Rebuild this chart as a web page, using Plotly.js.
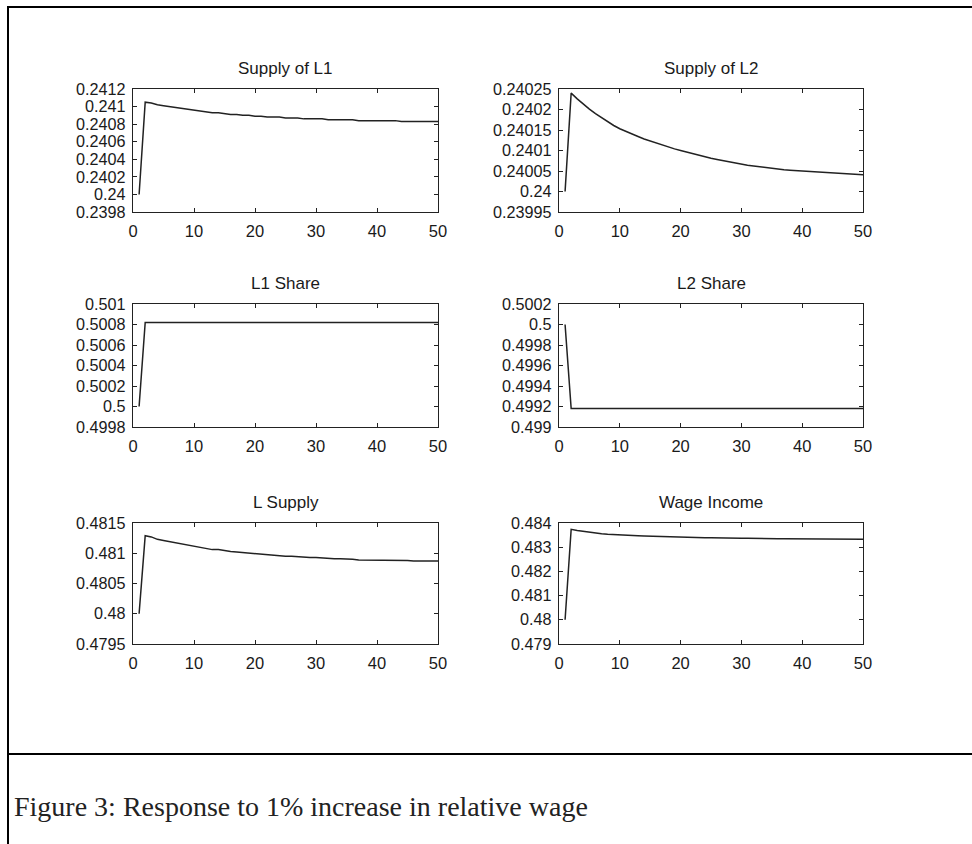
<!DOCTYPE html>
<html>
<head>
<meta charset="utf-8">
<script src="https://cdn.plot.ly/plotly-3.0.1.min.js"></script>
<style>html,body{margin:0;padding:0;background:#fff;}#chart{width:972px;height:844px;}</style>
</head>
<body>
<div id="chart"></div>
<script>
// ---- data ----
var periods = [1,2,3,4,5,6,7,8,9,10,11,12,13,14,15,16,17,18,19,20,21,22,23,24,25,26,27,28,29,30,31,32,33,34,35,36,37,38,39,40,41,42,43,44,45,46,47,48,49,50];

var supplyL1 = [0.24000,0.24105,0.24104,0.24102,0.24101,0.24100,0.24099,0.24098,0.24097,0.24096,
  0.24095,0.24094,0.24093,0.24093,0.24092,0.24091,0.24091,0.24090,0.24090,0.24089,
  0.24089,0.24088,0.24088,0.24088,0.24087,0.24087,0.24087,0.24086,0.24086,0.24086,
  0.24086,0.24085,0.24085,0.24085,0.24085,0.24085,0.24084,0.24084,0.24084,0.24084,
  0.24084,0.24084,0.24084,0.24083,0.24083,0.24083,0.24083,0.24083,0.24083,0.24083];

var supplyL2 = [0.240000,0.240240,0.240226,0.240213,0.240201,0.240190,0.240180,0.240170,0.240161,0.240153,
  0.240146,0.240140,0.240134,0.240128,0.240123,0.240118,0.240113,0.240108,0.240104,0.240100,
  0.240096,0.240092,0.240088,0.240084,0.240081,0.240078,0.240075,0.240072,0.240069,0.240066,
  0.240064,0.240062,0.240060,0.240058,0.240056,0.240054,0.240053,0.240052,0.240051,0.240050,
  0.240049,0.240048,0.240047,0.240046,0.240045,0.240044,0.240043,0.240042,0.240042,0.240041];

var shareL1 = [0.50000,0.50082,0.50082,0.50082,0.50082,0.50082,0.50082,0.50082,0.50082,0.50082,
  0.50082,0.50082,0.50082,0.50082,0.50082,0.50082,0.50082,0.50082,0.50082,0.50082,
  0.50082,0.50082,0.50082,0.50082,0.50082,0.50082,0.50082,0.50082,0.50082,0.50082,
  0.50082,0.50082,0.50082,0.50082,0.50082,0.50082,0.50082,0.50082,0.50082,0.50082,
  0.50082,0.50082,0.50082,0.50082,0.50082,0.50082,0.50082,0.50082,0.50082,0.50082];

var shareL2 = [0.50000,0.49918,0.49918,0.49918,0.49918,0.49918,0.49918,0.49918,0.49918,0.49918,
  0.49918,0.49918,0.49918,0.49918,0.49918,0.49918,0.49918,0.49918,0.49918,0.49918,
  0.49918,0.49918,0.49918,0.49918,0.49918,0.49918,0.49918,0.49918,0.49918,0.49918,
  0.49918,0.49918,0.49918,0.49918,0.49918,0.49918,0.49918,0.49918,0.49918,0.49918,
  0.49918,0.49918,0.49918,0.49918,0.49918,0.49918,0.49918,0.49918,0.49918,0.49918];

var lSupply = [0.48000,0.48129,0.48127,0.48123,0.48121,0.48119,0.48117,0.48115,0.48113,0.48111,
  0.48110,0.48108,0.48106,0.48106,0.48104,0.48103,0.48102,0.48101,0.48100,0.48099,
  0.48099,0.48097,0.48097,0.48096,0.48095,0.48095,0.48094,0.48093,0.48093,0.48093,
  0.48092,0.48091,0.48091,0.48091,0.48091,0.48090,0.48089,0.48089,0.48089,0.48089,
  0.48089,0.48089,0.48089,0.48088,0.48088,0.48087,0.48087,0.48087,0.48087,0.48087];

var wageIncome = [0.48000,0.48374,0.48369,0.48365,0.48361,0.48358,0.48356,0.48354,0.48352,0.48350,
  0.48349,0.48348,0.48347,0.48346,0.48345,0.48344,0.48344,0.48343,0.48342,0.48341,
  0.48341,0.48340,0.48340,0.48339,0.48339,0.48338,0.48338,0.48338,0.48337,0.48337,
  0.48337,0.48336,0.48336,0.48336,0.48335,0.48335,0.48335,0.48335,0.48334,0.48334,
  0.48334,0.48334,0.48334,0.48333,0.48333,0.48333,0.48333,0.48333,0.48333,0.48333];

var panelTitles = ["Supply of L1","Supply of L2","L1 Share","L2 Share","L Supply","Wage Income"];

var xTicks = [0,10,20,30,40,50];
var yTicks1 = [0.2398,0.24,0.2402,0.2404,0.2406,0.2408,0.241,0.2412];
var yTicks2 = [0.23995,0.24,0.24005,0.2401,0.24015,0.2402,0.24025];
var yTicks3 = [0.4998,0.5,0.5002,0.5004,0.5006,0.5008,0.501];
var yTicks4 = [0.499,0.4992,0.4994,0.4996,0.4998,0.5,0.5002];
var yTicks5 = [0.4795,0.48,0.4805,0.481,0.4815];
var yTicks6 = [0.479,0.48,0.481,0.482,0.483,0.484];

var captionText = "Figure 3: Response to 1% increase in relative wage";

// ---- layout ----
var W = 972, H = 844;
function px(x){ return x / W; }
function py(y){ return 1 - y / H; }

var cols = [[133, 438], [559, 863]];
var rows = [[89, 212], [304, 427], [523, 644]];

var series = [supplyL1, supplyL2, shareL1, shareL2, lSupply, wageIncome];
var yTickSets = [yTicks1, yTicks2, yTicks3, yTicks4, yTicks5, yTicks6];

var xTickFont = {family: "Liberation Sans, Arial, sans-serif", size: 16.5, color: "#1a1a1a"};
var yTickFont = {family: "Liberation Sans, Arial, sans-serif", size: 16.2, color: "#1a1a1a"};

var data = [];
var layout = {
  width: W, height: H,
  margin: {l: 0, r: 0, t: 0, b: 0},
  paper_bgcolor: "#ffffff",
  plot_bgcolor: "#ffffff",
  showlegend: false,
  shapes: [],
  annotations: []
};

for (var i = 0; i < 6; i++) {
  var c = cols[i % 2], r = rows[Math.floor(i / 2)];
  var sfx = i === 0 ? "" : String(i + 1);
  data.push({
    x: periods, y: series[i], type: "scatter", mode: "lines",
    xaxis: "x" + sfx, yaxis: "y" + sfx,
    line: {color: "#222222", width: 1.5},
    hoverinfo: "x+y"
  });
  var yt = yTickSets[i];
  layout["xaxis" + sfx] = {
    domain: [px(c[0]), px(c[1])],
    anchor: "y" + sfx,
    range: [0, 50],
    tickmode: "array", tickvals: xTicks, ticktext: xTicks.map(String),
    ticks: "inside", ticklen: 4, tickcolor: "#222",
    showline: true, linecolor: "#222", linewidth: 1.2, mirror: "allticks",
    showgrid: false, zeroline: false,
    tickfont: xTickFont, automargin: false, ticklabelstandoff: 4
  };
  layout["yaxis" + sfx] = {
    domain: [py(r[1]), py(r[0])],
    anchor: "x" + sfx,
    range: [yt[0], yt[yt.length - 1]],
    tickmode: "array", tickvals: yt, ticktext: yt.map(String),
    ticks: "inside", ticklen: 4, tickcolor: "#222",
    showline: true, linecolor: "#222", linewidth: 1.2, mirror: "allticks",
    showgrid: false, zeroline: false,
    tickfont: yTickFont, automargin: false, ticklabelstandoff: 3
  };
  layout.annotations.push({
    xref: "paper", yref: "paper",
    x: px((c[0] + c[1]) / 2), y: py(r[0] - 21),
    xanchor: "center", yanchor: "middle",
    text: panelTitles[i], showarrow: false,
    font: {family: "Liberation Sans, Arial, sans-serif", size: 17, color: "#1a1a1a"}
  });
}

// frame lines
layout.shapes.push({type: "line", xref: "paper", yref: "paper", x0: px(7), x1: 1, y0: py(7), y1: py(7), line: {color: "#000", width: 2}});
layout.shapes.push({type: "line", xref: "paper", yref: "paper", x0: px(8), x1: px(8), y0: py(6), y1: 0, line: {color: "#000", width: 2}});
layout.shapes.push({type: "line", xref: "paper", yref: "paper", x0: px(7), x1: 1, y0: py(754), y1: py(754), line: {color: "#000", width: 2}});

layout.annotations.push({
  xref: "paper", yref: "paper",
  x: px(12), y: py(806),
  xanchor: "left", yanchor: "middle",
  text: captionText, showarrow: false,
  font: {family: "Liberation Serif, Times New Roman, serif", size: 28, color: "#222"}
});

Plotly.newPlot("chart", data, layout, {displayModeBar: false, staticPlot: true});
</script>
</body>
</html>
